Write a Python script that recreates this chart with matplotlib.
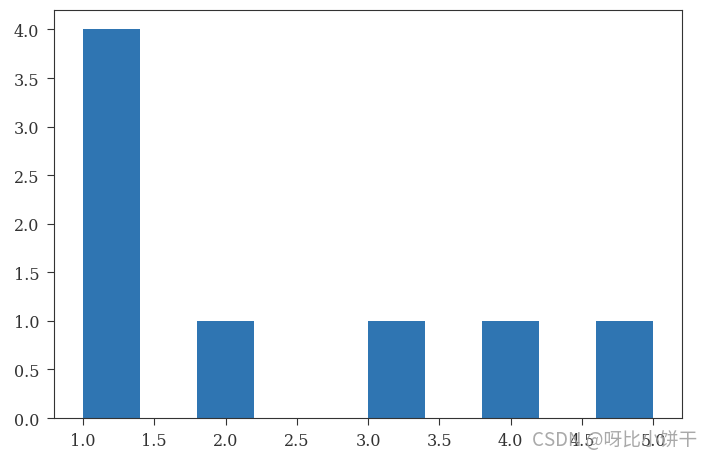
import matplotlib
matplotlib.use("Agg")
import matplotlib.pyplot as plt

data = [1, 1, 1, 1, 2, 3, 4, 5]
n_bins = 10
xticks = [1.0, 1.5, 2.0, 2.5, 3.0, 3.5, 4.0, 4.5, 5.0]
yticks = [0.0, 0.5, 1.0, 1.5, 2.0, 2.5, 3.0, 3.5, 4.0]
watermark = "CSDN @呀比小饼干"

plt.rcParams['font.family'] = ['DejaVu Serif']
fig = plt.figure(figsize=(7.12, 4.6), dpi=100)
ax = fig.add_axes([0.0765, 0.089, 0.881, 0.887])
ax.hist(data, bins=n_bins, color='#2f75b2')
ax.set_xticks(xticks)
ax.set_xticklabels([f"{t:.1f}" for t in xticks])
ax.set_yticks(yticks)
ax.set_yticklabels([f"{t:.1f}" for t in yticks])
ax.tick_params(labelsize=11.5, colors='#333333', length=5)
ax.tick_params(axis='y', pad=6)
ax.tick_params(axis='x', pad=5)
for s in ax.spines.values():
    s.set_color('#333333')
fig.text(0.979, 0.043, watermark, ha='right', va='center', fontsize=13.5,
         color='#a0a0a0', alpha=0.9, family=['Noto Sans CJK SC', 'DejaVu Sans'])
fig.savefig("out.png", dpi=100)
